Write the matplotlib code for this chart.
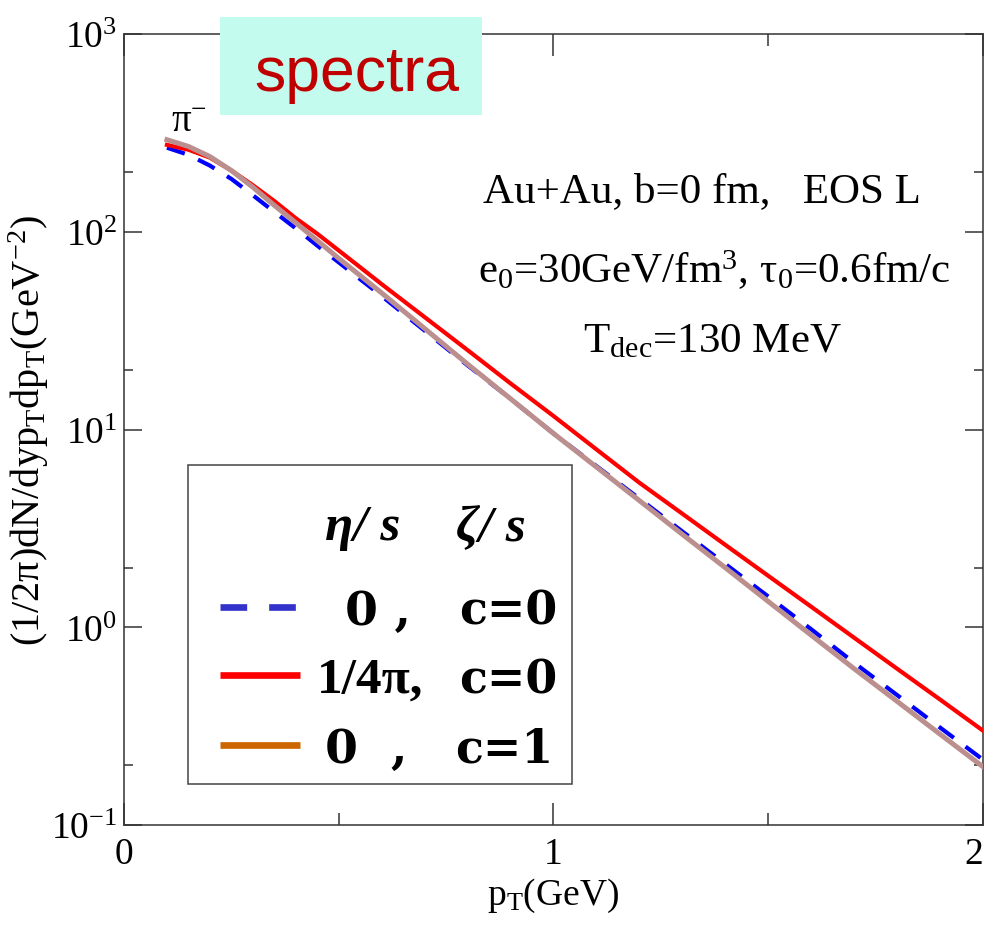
import numpy as np
import matplotlib
matplotlib.use("Agg")
import matplotlib.pyplot as plt
from matplotlib.lines import Line2D
from matplotlib.patches import Rectangle
from matplotlib.ticker import FixedLocator, FixedFormatter, NullFormatter

plt.rcParams['font.family'] = ['Liberation Serif', 'DejaVu Serif']
plt.rcParams['mathtext.fontset'] = 'custom'
plt.rcParams['mathtext.rm'] = 'Liberation Serif'
plt.rcParams['mathtext.it'] = 'Liberation Serif:italic'
plt.rcParams['mathtext.bf'] = 'Liberation Serif:bold'
plt.rcParams['mathtext.default'] = 'rm'

# ── data ────────────────────────────────────────────────────────
pt = [0.1, 0.15, 0.2, 0.25, 0.3, 0.35, 0.4, 0.45, 0.5, 0.55, 0.6, 0.7, 0.8, 0.9,
      1.0, 1.1, 1.2, 1.3, 1.4, 1.5, 1.6, 1.7, 1.8, 1.9, 2.0]
# eta/s = 0, c = 0 (ideal)
spec_ideal = [266, 245, 216, 185, 153, 126, 104, 85.1, 70.0, 57.5, 47.3, 31.6, 21.1, 14.3,
              9.55, 6.53, 4.47, 3.05, 2.09, 1.43, 0.977, 0.661, 0.454, 0.311, 0.214]
# eta/s = 1/4pi, c = 0
spec_shear = [275, 260, 237, 204, 172, 143, 117, 97.7, 80.4, 66.1, 54.3, 37.0, 25.2, 17.1,
              11.7, 7.93, 5.38, 3.75, 2.61, 1.82, 1.27, 0.885, 0.617, 0.431, 0.300]
# eta/s = 0, c = 1 (bulk)
spec_bulk = [292, 270, 240, 204, 168, 136, 111, 90.2, 73.3, 60.0, 49.0, 32.4, 21.4, 14.3,
             9.55, 6.46, 4.37, 2.95, 2.00, 1.35, 0.912, 0.617, 0.422, 0.288, 0.197]

ytick_vals = [1e-1, 1e0, 1e1, 1e2, 1e3]
ytick_labels = [r'10$^{\mathrm{-1}}$', r'10$^{\mathrm{0}}$', r'10$^{\mathrm{1}}$',
                r'10$^{\mathrm{2}}$', r'10$^{\mathrm{3}}$']
ytick_minor = [0.2, 2, 20, 200]
xtick_vals = [0, 1, 2]
xtick_minor = [0.5, 1.5]

W, H = 987, 929
fig = plt.figure(figsize=(W / 100, H / 100), dpi=100)
ax = fig.add_axes([124 / W, 1 - 826 / H, (983 - 124) / W, (826 - 35) / H])


def fpx(x, y):
    # pixel position in the reference -> figure fraction
    return x / W, 1 - y / H


ax.plot(pt, spec_ideal, color='#0000FF', lw=3.0, dashes=(4.5, 3.5), zorder=2)
ax.plot(pt, spec_shear, color='#FF0000', lw=3.0, zorder=3)
ax.plot(pt, spec_bulk, color='#BC8F8F', lw=3.6, zorder=4)

ax.set_yscale('log')
ax.set_xlim(0, 2)
ax.set_ylim(0.1, 1000)

ax.yaxis.set_major_locator(FixedLocator(ytick_vals))
ax.yaxis.set_major_formatter(FixedFormatter(ytick_labels))
ax.yaxis.set_minor_locator(FixedLocator(ytick_minor))
ax.yaxis.set_minor_formatter(NullFormatter())
ax.xaxis.set_major_locator(FixedLocator(xtick_vals))
ax.xaxis.set_minor_locator(FixedLocator(xtick_minor))

ax.tick_params(axis='both', which='both', direction='in', top=True, right=True,
               color='#333333', width=1.1, labelsize=27)
ax.tick_params(axis='x', which='major', length=16, pad=8)
ax.tick_params(axis='x', which='minor', length=8.5)
ax.tick_params(axis='y', which='major', length=13, pad=5)
ax.tick_params(axis='y', which='minor', length=6.5)
for sp in ax.spines.values():
    sp.set_color('#333333')
    sp.set_linewidth(1.1)
# the last x label sits on the figure edge: keep it inside
ax.xaxis.get_major_ticks()[-1].label1.set_horizontalalignment('right')

ax.set_xlabel(r'p$_{\mathrm{T}}$(GeV)', fontsize=27, labelpad=4)
ax.set_ylabel(r'(1/2π)dN/dyp$_{\mathrm{T}}$dp$_{\mathrm{T}}$(GeV$^{\mathrm{-2}}$)',
              fontsize=29, labelpad=0)

# particle label
ax.text(0.11, 360, r'π$^{\mathrm{-}}$', fontsize=28, ha='left', va='center')

# run conditions
fig.text(*fpx(483, 202), 'Au+Au, b=0 fm,   EOS L', fontsize=31, va='baseline')
fig.text(*fpx(478, 283), r'e$_{\mathrm{0}}$=30GeV/fm$^{\mathrm{3}}$, τ$_{\mathrm{0}}$=0.6fm/c',
         fontsize=31, va='baseline')
fig.text(*fpx(583, 352), r'T$_{\mathrm{dec}}$=130 MeV', fontsize=31, va='baseline')

# legend drawn by hand to keep the two-column layout
lx0, ly0 = fpx(188, 785)
lx1, ly1 = fpx(572, 466)
fig.patches.append(Rectangle((lx0, ly0), lx1 - lx0, ly1 - ly0, transform=fig.transFigure,
                             facecolor='white', edgecolor='#444444', lw=1.1, zorder=5))
fig.text(*fpx(325, 540), 'η/ s', fontsize=37, style='italic', weight='bold',
         va='baseline', zorder=6)
fig.text(*fpx(456, 540), 'ζ/ s', fontsize=37, style='italic', weight='bold',
         va='baseline', zorder=6)

bold_wide = ['DejaVu Serif']
leg_rows = [
    ('#3333CC', (4, 3.3), '0 ,', 378, bold_wide, 'c=0', 459, 625),
    ('#FF0000', None, '1/4π,', 370, ['Liberation Serif'], 'c=0', 459, 693),
    ('#CC6600', None, '0  ,', 366, bold_wide, 'c=1', 455, 763),
]
for col, dash, eta, ex, efam, zeta, zx, base in leg_rows:
    xa, ya = fpx(220, base - 17)
    xb, _ = fpx(300, base - 17)
    ln = Line2D([xa, xb], [ya, ya], transform=fig.transFigure, color=col, lw=4.8,
                zorder=6, solid_capstyle='butt', dash_capstyle='butt')
    if dash is not None:
        ln.set_dashes(dash)
    fig.lines.append(ln)
    fig.text(*fpx(ex, base), eta, fontsize=34 if efam == bold_wide else 37,
             family=efam, weight='bold', ha='center', va='baseline', zorder=6)
    fig.text(*fpx(zx, base), zeta, fontsize=33, family=bold_wide, weight='bold',
             ha='left', va='baseline', zorder=6)

# "spectra" tag on top
bx0, by0 = fpx(220, 116)
bx1, by1 = fpx(482, 18)
fig.patches.append(Rectangle((bx0, by0), bx1 - bx0, by1 - by0, transform=fig.transFigure,
                             facecolor='#C3FCEE', edgecolor='none', zorder=7))
fig.text(*fpx(357, 91), 'spectra', fontsize=45, color='#C00000',
         family=['Liberation Sans', 'DejaVu Sans'], ha='center', va='baseline', zorder=8)

fig.savefig('out.png', dpi=100)
